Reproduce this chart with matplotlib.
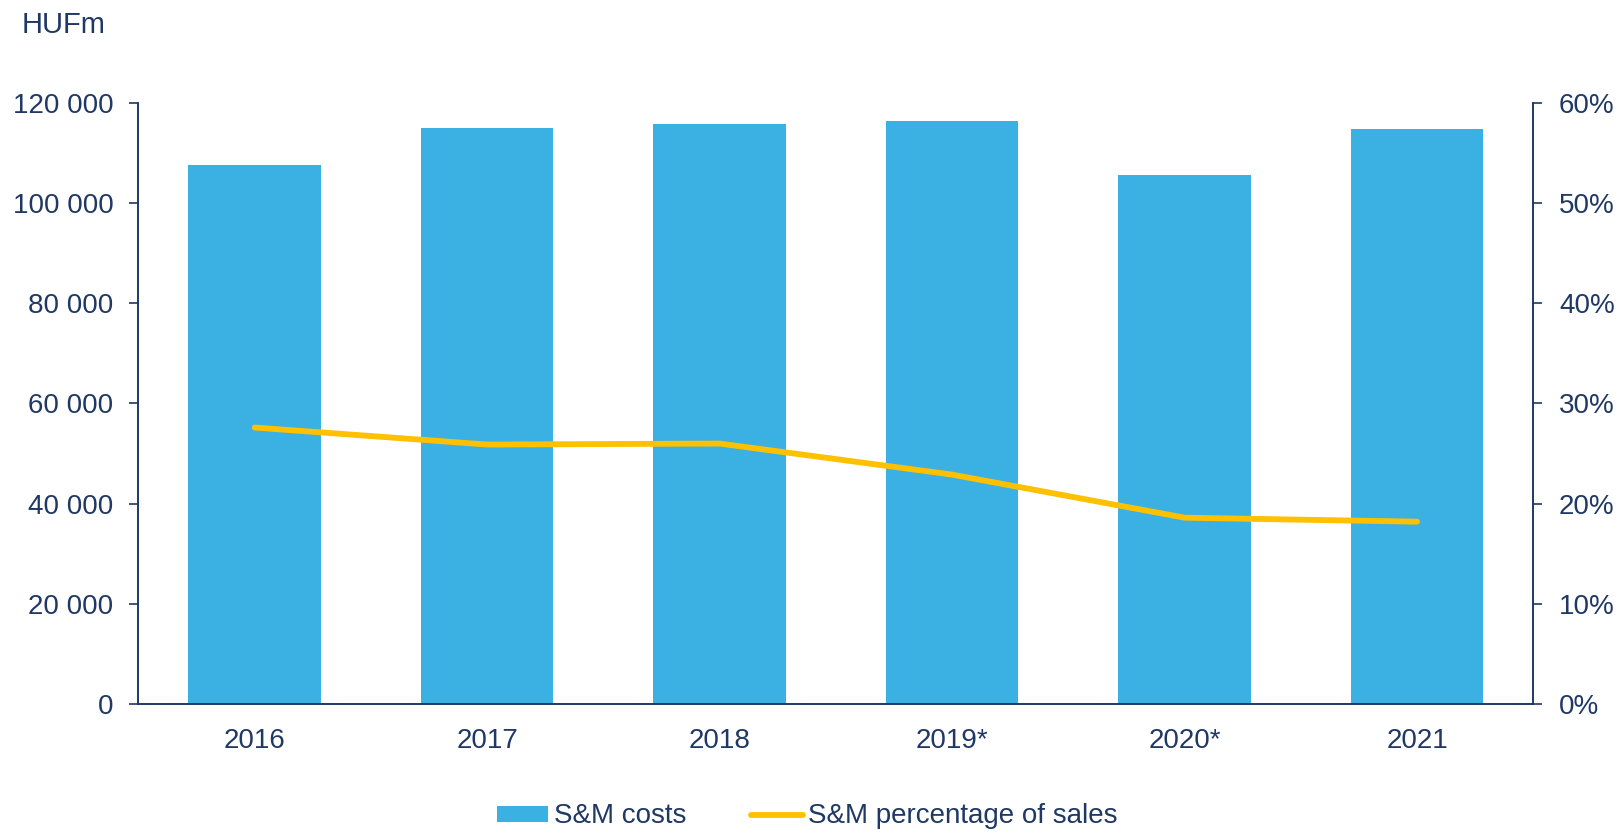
import matplotlib
matplotlib.use("Agg")
import matplotlib.pyplot as plt
from matplotlib.ticker import FuncFormatter

plt.rcParams['font.family'] = ['Liberation Sans', 'DejaVu Sans']

years = ['2016', '2017', '2018', '2019*', '2020*', '2021']
costs = [107700, 115000, 115800, 116400, 105700, 114800]
pct = [27.6, 25.9, 26.0, 22.9, 18.6, 18.2]

navy = '#1F3864'
blue = '#3BB0E2'
gold = '#FFC000'
fs = 20

fig = plt.figure(figsize=(16.21, 8.34), dpi=100)
ax = fig.add_axes([0.0854, 0.1559, 0.8605, 0.7206])
x = range(len(years))
bars = ax.bar(x, costs, width=0.57, color=blue, label='S&M costs', zorder=2)
ax.set_xlim(-0.5, 5.5)
ax.set_ylim(0, 120000)
ax.set_yticks(range(0, 120001, 20000))
ax.yaxis.set_major_formatter(FuncFormatter(lambda v, p: f'{int(v):,}'.replace(',', ' ')))
ax.set_xticks(list(x))
ax.set_xticklabels(years)
ax.tick_params(axis='x', length=0, pad=17, labelsize=fs, labelcolor=navy)
ax.tick_params(axis='y', length=6.5, width=1.2, color=navy, pad=11.5, labelsize=fs, labelcolor=navy)

ax2 = ax.twinx()
line, = ax2.plot(list(x), pct, color=gold, lw=4.2, solid_capstyle='round',
                 label='S&M percentage of sales')
ax2.set_ylim(0, 60)
ax2.set_yticks(range(0, 61, 10))
ax2.yaxis.set_major_formatter(FuncFormatter(lambda v, p: f'{int(v)}%'))
ax2.tick_params(axis='y', length=6.5, width=1.2, color=navy, pad=12, labelsize=fs, labelcolor=navy)

for a in (ax, ax2):
    a.spines['top'].set_visible(False)
    for s in ('left', 'right', 'bottom'):
        a.spines[s].set_color(navy)
        a.spines[s].set_linewidth(1.2)

fig.text(0.0134, 0.970, 'HUFm', fontsize=21, color=navy, va='center', ha='left')

leg = fig.legend([bars, line], ['S&M costs', 'S&M percentage of sales'],
                 loc='center', bbox_to_anchor=(0.4979, 0.021), ncol=2,
                 frameon=False, fontsize=fs, handlelength=1.85, handleheight=0.5,
                 handletextpad=0.2, columnspacing=2.35)
for t in leg.get_texts():
    t.set_color(navy)

fig.savefig('out.png', dpi=100)
